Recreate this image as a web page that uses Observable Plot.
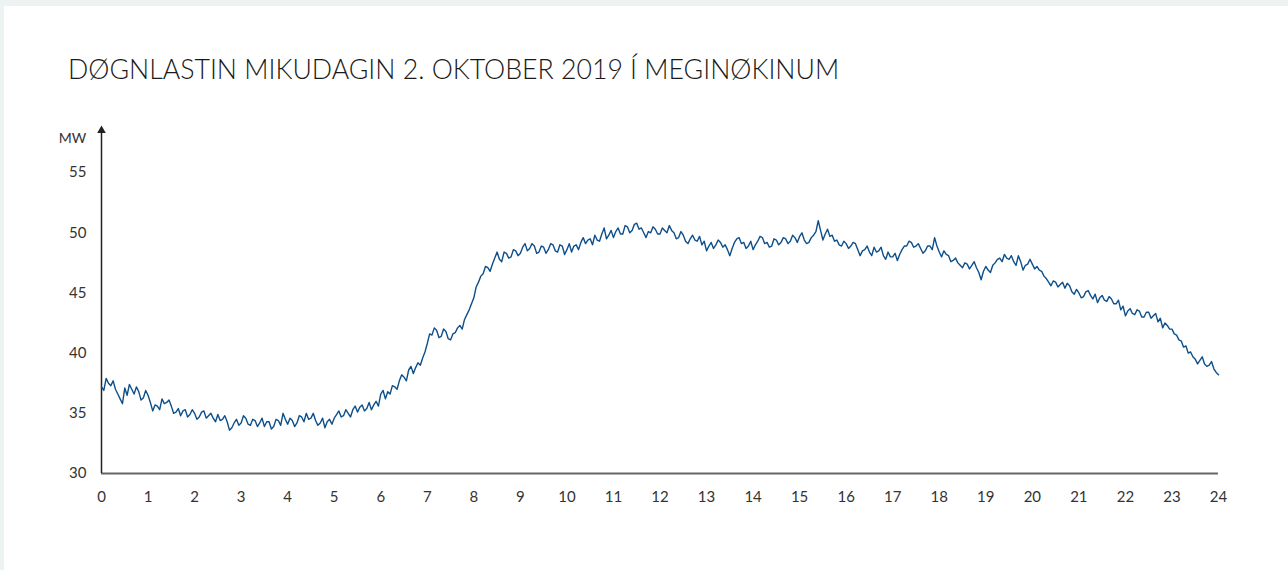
<!DOCTYPE html>
<html>
<head>
<meta charset="utf-8">
<script src="https://cdn.jsdelivr.net/npm/d3@7"></script>
<script src="https://cdn.jsdelivr.net/npm/@observablehq/plot@0.6"></script>
<style>
  html, body { margin: 0; padding: 0; width: 1288px; height: 570px; overflow: hidden; background: #edf3f2; font-family: Lato, "Open Sans", sans-serif; }
  #panel { position: absolute; left: 4px; top: 6px; right: 0; bottom: 0; background: #ffffff; }
  #title { position: absolute; left: 68px; top: 53px; font-size: 26.7px; font-weight: 300; color: #1a1a1a; white-space: nowrap; }
  #chart { position: absolute; left: 0; top: 110px; }
</style>
</head>
<body>
<div id="panel"></div>
<div id="title">DØGNLASTIN MIKUDAGIN 2. OKTOBER 2019 Í MEGINØKINUM</div>
<div id="chart"></div>
<script>
// Load in MW, every 0.05 hour (3 min) from 0 to 24, one row per hour
const hourStep = 0.05;
const loadMW = [
  37.2, 36.9, 37.9, 37.5, 37.3, 37.7, 37.0, 36.6, 36.2, 35.8, 37.1, 36.5, 37.4, 37.0, 36.6, 37.2, 36.8, 36.1, 36.3, 36.9,
  36.5, 35.9, 35.2, 35.7, 35.6, 35.3, 36.2, 35.8, 35.9, 36.1, 35.6, 35.0, 35.1, 35.4, 34.8, 35.2, 35.3, 34.7, 34.9, 35.3,
  35.0, 34.5, 34.7, 35.1, 35.2, 34.6, 34.8, 35.0, 34.6, 34.3, 34.9, 34.4, 34.5, 34.8, 34.3, 33.6, 33.8, 34.2, 34.5, 34.0,
  34.2, 34.8, 34.6, 34.1, 34.0, 34.5, 34.4, 33.9, 34.2, 34.6, 33.9, 34.3, 34.3, 33.7, 33.9, 34.5, 34.4, 34.0, 35.0, 34.5,
  34.1, 34.6, 34.4, 33.9, 34.2, 34.8, 34.7, 34.3, 35.0, 34.5, 34.6, 35.0, 34.4, 34.0, 34.2, 34.6, 33.8, 34.3, 34.5, 34.1,
  34.6, 34.9, 35.2, 34.7, 34.8, 35.3, 35.0, 34.7, 35.3, 35.6, 35.1, 35.5, 35.7, 35.2, 35.4, 35.9, 35.3, 35.7, 36.0, 35.6,
  36.6, 36.9, 36.2, 36.8, 36.6, 37.3, 37.2, 37.0, 37.7, 38.2, 38.0, 37.7, 38.6, 38.9, 38.3, 38.8, 39.2, 39.0, 39.6, 40.1,
  40.8, 41.6, 41.5, 42.1, 41.9, 41.3, 41.4, 42.0, 41.8, 41.2, 41.1, 41.6, 41.7, 42.1, 42.3, 42.0, 42.8, 43.2, 43.6, 44.1,
  44.6, 45.5, 45.9, 46.4, 46.6, 47.2, 47.1, 46.8, 47.4, 47.9, 48.4, 47.8, 47.6, 48.4, 48.3, 47.9, 48.0, 48.6, 48.5, 48.1,
  48.3, 48.8, 49.1, 48.5, 48.7, 49.1, 48.9, 48.3, 48.4, 48.9, 48.8, 48.3, 48.6, 49.1, 49.0, 48.5, 48.4, 49.0, 48.9, 48.2,
  48.6, 49.1, 48.4, 48.9, 49.0, 48.6, 49.2, 49.6, 49.1, 49.4, 49.5, 49.0, 49.8, 49.4, 49.3, 49.9, 50.4, 49.5, 49.8, 50.2,
  49.6, 50.1, 50.4, 49.9, 49.9, 50.6, 50.5, 50.0, 50.2, 50.7, 50.8, 50.3, 50.4, 50.0, 49.6, 50.1, 50.0, 50.5, 50.3, 49.9,
  49.9, 50.4, 50.2, 50.0, 50.6, 50.2, 50.0, 49.5, 49.6, 50.1, 49.8, 49.3, 49.1, 49.5, 49.8, 49.4, 49.3, 49.7, 49.0, 49.3,
  48.5, 48.9, 49.2, 48.7, 49.0, 49.4, 49.2, 48.8, 49.0, 48.6, 48.1, 48.7, 49.2, 49.5, 49.6, 49.1, 49.2, 48.7, 48.9, 49.3,
  48.6, 49.0, 49.3, 49.7, 49.6, 49.1, 49.2, 48.8, 48.9, 49.5, 49.4, 49.0, 49.2, 49.6, 49.5, 49.1, 49.3, 49.8, 49.6, 49.2,
  49.7, 50.0, 49.4, 49.1, 49.2, 49.6, 49.8, 50.1, 51.0, 50.2, 49.4, 49.9, 50.3, 49.7, 49.8, 49.3, 49.4, 49.0, 48.9, 49.3,
  49.1, 48.7, 48.9, 49.2, 49.1, 48.6, 48.1, 48.5, 48.6, 48.9, 48.4, 48.1, 48.8, 48.4, 48.5, 48.8, 48.1, 47.8, 48.4, 48.0,
  48.0, 48.3, 47.7, 48.2, 48.6, 48.9, 48.9, 49.3, 49.2, 48.8, 48.9, 49.1, 48.7, 48.3, 48.5, 48.9, 48.9, 48.6, 49.6, 48.9,
  48.4, 48.0, 48.5, 48.2, 48.1, 47.6, 47.7, 47.9, 47.5, 47.3, 47.1, 47.5, 47.4, 47.0, 47.3, 47.6, 47.1, 46.7, 46.1, 46.8,
  47.2, 46.9, 46.7, 47.3, 47.5, 47.8, 47.9, 47.6, 48.2, 47.9, 47.8, 48.1, 47.6, 47.3, 48.1, 47.6, 46.9, 47.3, 47.4, 47.8,
  47.4, 47.0, 47.2, 46.9, 46.8, 46.4, 46.2, 45.9, 45.6, 46.0, 45.9, 45.5, 45.7, 45.9, 45.4, 45.8, 45.6, 45.1, 44.9, 45.3,
  45.0, 44.6, 44.7, 45.1, 45.2, 44.8, 44.5, 44.9, 44.2, 44.6, 44.8, 44.4, 44.3, 44.7, 44.5, 44.1, 44.1, 44.4, 43.6, 43.9,
  43.1, 43.5, 43.7, 43.3, 43.2, 43.6, 43.5, 43.0, 43.0, 43.4, 43.4, 42.9, 43.1, 43.3, 42.6, 42.9, 42.1, 42.5, 42.3, 42.0,
  42.0, 41.6, 41.5, 41.1, 41.0, 40.5, 40.6, 40.0, 40.1, 39.7, 39.5, 39.1, 39.4, 39.7, 39.1, 38.9, 39.0, 39.3, 38.7, 38.4,
  38.2
];
const xTicks = d3.range(0, 25);
const yTicks = [30, 35, 40, 45, 50, 55];
const yDomain = [30, 58.5];
const xDomain = [0, 24];
const unitLabel = "MW";

const data = loadMW.map((v, i) => ({hour: +(i * hourStep).toFixed(2), mw: v}));

const chart = Plot.plot({
  width: 1288,
  height: 400,
  marginLeft: 101,
  marginRight: 70,
  marginTop: 20,
  marginBottom: 37,
  style: {fontFamily: "Lato, 'Open Sans', sans-serif", fontSize: "15px", color: "#333", background: "transparent"},
  x: {domain: xDomain, ticks: xTicks, tickSize: 0, tickPadding: 18, label: null, tickFormat: d => String(d)},
  y: {domain: yDomain, ticks: yTicks, tickSize: 0, tickPadding: 15, label: null},
  marks: [
    Plot.ruleY([yDomain[0]], {stroke: "#666", strokeWidth: 2}),
    Plot.ruleX([xDomain[0]], {y1: yDomain[0], y2: yDomain[1], stroke: "#222", strokeWidth: 1.5}),
    Plot.dot([xDomain[0]], {x: d => d, y: yDomain[1], symbol: "triangle", r: 3.2, fill: "#222", stroke: null}),
    Plot.text([unitLabel], {frameAnchor: "top-left", textAnchor: "middle", dx: -29, dy: 3, text: d => d, fontSize: 14, fill: "#333"}),
    Plot.line(data, {x: "hour", y: "mw", stroke: "#0d4f8b", strokeWidth: 1.4})
  ]
});
document.getElementById("chart").appendChild(chart);
</script>
</body>
</html>
